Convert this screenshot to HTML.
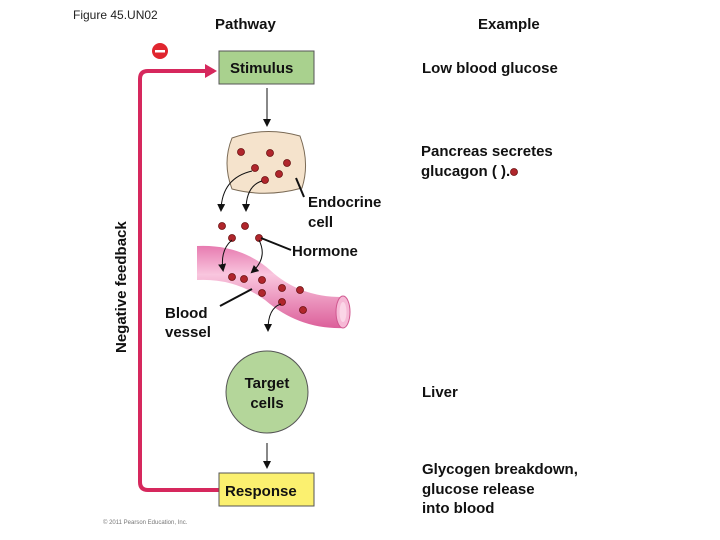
<!DOCTYPE html>
<html><head><style>
body{margin:0;background:#fff;}
svg{display:block;font-family:"Liberation Sans",sans-serif;}
.b{font-weight:bold;font-size:15px;fill:#111;}
.n{font-size:15px;fill:#111;}
</style></head><body>
<svg width="720" height="540" viewBox="0 0 720 540">
<defs>
<marker id="a" markerWidth="8" markerHeight="8" refX="6" refY="4" orient="auto" markerUnits="userSpaceOnUse"><path d="M0,0 L8,4 L0,8 Z" fill="#111"/></marker>
<linearGradient id="v" x1="0" y1="0" x2="0" y2="1"><stop offset="0" stop-color="#e77bb0"/><stop offset="0.35" stop-color="#f9c6de"/><stop offset="1" stop-color="#dc5f9a"/></linearGradient>
</defs>
<text x="73" y="19" font-size="12" fill="#222">Figure 45.UN02</text>
<text x="215" y="29" class="b" font-size="16">Pathway</text>
<text x="478" y="29" class="b" font-size="16">Example</text>
<path d="M214,71 L148,71 Q140,71 140,79 L140,482 Q140,490 148,490 L219,490" fill="none" stroke="#d6285d" stroke-width="4"/>
<path d="M205,64 L217,71 L205,78 Z" fill="#d6285d"/>
<circle cx="160" cy="51" r="8" fill="#e0262f"/>
<rect x="155" y="50" width="10" height="2.5" fill="#fff"/>
<text transform="translate(126,353) rotate(-90)" font-size="15" fill="#111" style="font-weight:600">Negative feedback</text>
<rect x="219" y="51" width="95" height="33" fill="#a9d18e" stroke="#555"/>
<text x="230" y="73" class="b">Stimulus</text>
<line x1="267" y1="88" x2="267" y2="125" stroke="#111" marker-end="url(#a)"/>
<path d="M232,138 Q265,126 300,136 Q310,163 302,188 Q266,198 232,189 Q222,163 232,138 Z" fill="#f5e3cc" stroke="#7a6a55"/>
<path d="M197,246 Q240,244 270,270 Q300,298 345,297 L345,328 Q300,330 265,300 Q235,278 197,280 Z" fill="url(#v)"/>
<ellipse cx="343" cy="312" rx="7" ry="16" fill="#f6b9d6" stroke="#d0578f"/>
<ellipse cx="343" cy="312" rx="3.5" ry="10" fill="#fbd6e7"/>
<g fill="#b0262c" stroke="#6a1010" stroke-width="0.8">
<circle cx="241" cy="152" r="3.5"/><circle cx="270" cy="153" r="3.5"/><circle cx="287" cy="163" r="3.5"/>
<circle cx="255" cy="168" r="3.5"/><circle cx="279" cy="174" r="3.5"/><circle cx="265" cy="180" r="3.5"/>
<circle cx="222" cy="226" r="3.5"/><circle cx="245" cy="226" r="3.5"/><circle cx="232" cy="238" r="3.5"/><circle cx="259" cy="238" r="3.5"/>
<circle cx="232" cy="277" r="3.5"/><circle cx="244" cy="279" r="3.5"/><circle cx="262" cy="280" r="3.5"/>
<circle cx="262" cy="293" r="3.5"/><circle cx="282" cy="288" r="3.5"/><circle cx="300" cy="290" r="3.5"/>
<circle cx="282" cy="302" r="3.5"/><circle cx="303" cy="310" r="3.5"/>
</g>
<g fill="none" stroke="#111">
<path d="M252,171 Q222,178 221,210" marker-end="url(#a)"/>
<path d="M262,181 Q246,186 246,210" marker-end="url(#a)"/>
<path d="M232,240 Q220,250 223,270" marker-end="url(#a)"/>
<path d="M259,240 Q268,258 252,272" marker-end="url(#a)"/>
<path d="M281,304 Q268,308 268,330" marker-end="url(#a)"/>
<path d="M296,178 L304,197" stroke-width="2"/>
<path d="M261,238 L291,250" stroke-width="2"/>
<path d="M220,306 L252,289" stroke-width="2"/>
</g>
<text x="308" y="207" class="b" style="font-weight:600">Endocrine</text>
<text x="308" y="227" class="b" style="font-weight:600">cell</text>
<text x="292" y="256" class="b" style="font-weight:600">Hormone</text>
<text x="165" y="318" class="b" style="font-weight:600">Blood</text>
<text x="165" y="337" class="b" style="font-weight:600">vessel</text>
<circle cx="267" cy="392" r="41" fill="#b4d69a" stroke="#555"/>
<text x="267" y="388" class="b" text-anchor="middle">Target</text>
<text x="267" y="408" class="b" text-anchor="middle">cells</text>
<line x1="267" y1="443" x2="267" y2="467" stroke="#111" marker-end="url(#a)"/>
<rect x="219" y="473" width="95" height="33" fill="#fbf06f" stroke="#555"/>
<text x="225" y="496" class="b">Response</text>
<text x="103" y="524" font-size="6" fill="#777">© 2011 Pearson Education, Inc.</text>
<g class="n" style="font-weight:600">
<text x="422" y="73">Low blood glucose</text>
<text x="421" y="156">Pancreas secretes</text>
<text x="421" y="176">glucagon ( ).</text>
<text x="422" y="397">Liver</text>
<text x="422" y="474">Glycogen breakdown,</text>
<text x="422" y="494">glucose release</text>
<text x="422" y="513">into blood</text>
</g>
<circle cx="514" cy="172" r="3.5" fill="#b0262c" stroke="#6a1010" stroke-width="0.8"/>
</svg>
</body></html>
